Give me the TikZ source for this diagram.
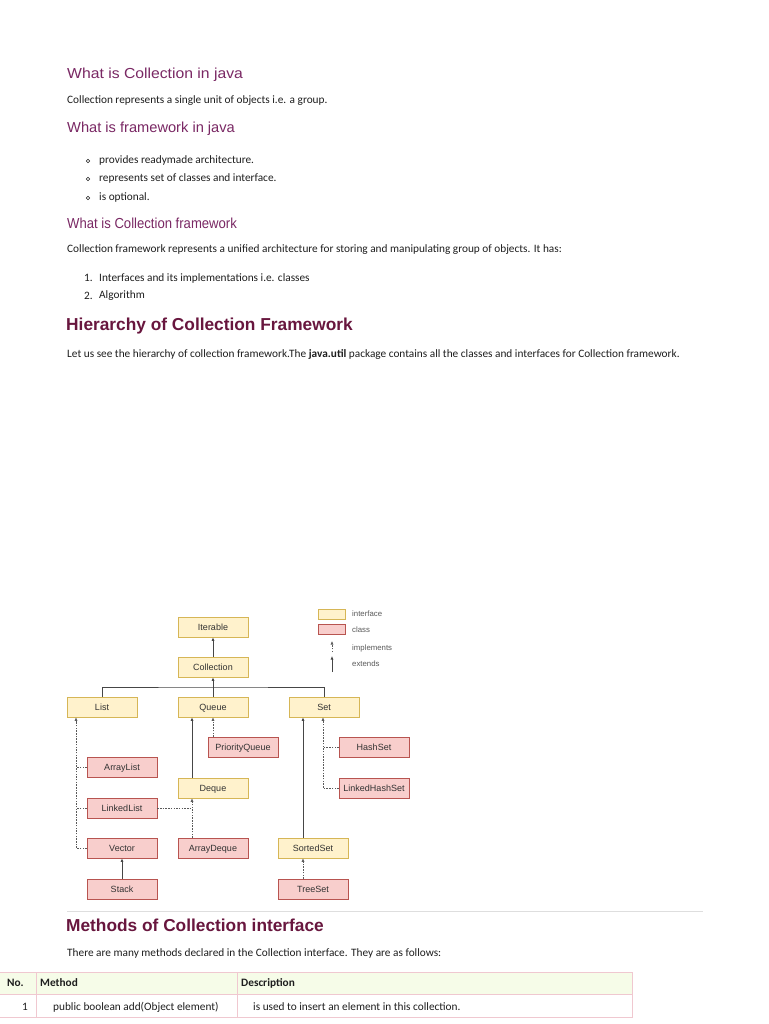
\documentclass[tikz,border=0pt]{standalone}
\usepackage{fontspec}
\setmainfont{Carlito}
\newfontfamily\headfont{Liberation Sans}
\usetikzlibrary{arrows.meta,calc}
\definecolor{headc}{RGB}{122,40,100}
\definecolor{head2c}{RGB}{104,22,62}
\definecolor{txtc}{RGB}{30,30,30}
\definecolor{ifill}{RGB}{255,242,204}
\definecolor{idraw}{RGB}{214,182,86}
\definecolor{cfill}{RGB}{248,206,204}
\definecolor{cdraw}{RGB}{184,84,80}
\definecolor{linec}{RGB}{70,70,70}
\definecolor{legc}{RGB}{90,90,90}
\definecolor{hdrfill}{RGB}{246,252,232}
\definecolor{tbline}{RGB}{240,200,208}
\definecolor{hrc}{RGB}{222,222,222}
\tikzset{
  txt/.style={anchor=west, inner sep=0pt, font=\fontsize{11.3}{13}\selectfont, text=txtc},
  txtb/.style={txt, font=\bfseries\fontsize{11.3}{13}\selectfont},
  hd/.style={anchor=west, inner sep=0pt, font=\headfont\fontsize{14.5}{16}\selectfont, text=headc},
  hdb/.style={anchor=west, inner sep=0pt, font=\headfont\bfseries\fontsize{17.3}{19}\selectfont, text=head2c},
  boxbase/.style={minimum width=70pt, minimum height=20pt, inner sep=0pt, line width=0.6pt,
    text height=6.6pt, text depth=0.5pt,
    font=\headfont\fontsize{9}{10}\selectfont, text={rgb,255:red,50;green,50;blue,50}},
  iface/.style={boxbase, fill=ifill, draw=idraw},
  cls/.style={boxbase, fill=cfill, draw=cdraw},
  ext/.style={draw=linec, line width=0.9pt, -{Latex[length=3.5pt,width=3pt]}},
  impl/.style={draw=legc, line width=0.6pt, dash pattern=on 1.5pt off 1.2pt, -{Latex[length=3.5pt,width=3pt]}},
  impln/.style={draw=legc, line width=0.6pt, dash pattern=on 1.5pt off 1.2pt},
  leg/.style={anchor=west, inner sep=0pt, font=\headfont\fontsize{7.8}{9}\selectfont, text=legc},
  swatch/.style={minimum width=27pt, minimum height=10pt, inner sep=0pt, line width=0.6pt},
  bul/.style={circle, draw=txtc, line width=0.6pt, minimum size=3.6pt, inner sep=0pt},
  tb/.style={draw=tbline, line width=0.8pt},
}
\begin{document}
\begin{tikzpicture}[x=1pt,y=-1pt]
\useasboundingbox[fill=white] (0,0) rectangle (768,1024);

% text section
\node[hd] (h1) at (67,75) {\scalebox{1.085}[1]{What is Collection in java}};
\node[txt] (p1) at (67,101) {Collection represents a single unit of objects i.e. a group.};
\node[hd] (h2) at (67,129) {\scalebox{1.01}[1]{What is framework in java}};
\node[bul] (b1) at (88,161) {};
\node[bul] (b2) at (88,179) {};
\node[bul] (b3) at (88,198) {};
\node[txt] (l1) at (99,160) {provides readymade architecture.};
\node[txt] (l2) at (99,178) {represents set of classes and interface.};
\node[txt] (l3) at (99,197) {is optional.};
\node[hd] (h3) at (67,223) {\scalebox{0.904}[1]{What is Collection framework}};
\node[txt] (p2) at (67,250) {Collection framework represents a unified architecture for storing and manipulating group of objects. It has:};
\node[txt] (n1) at (84,278) {1.};
\node[txt] (n2) at (84,296) {2.};
\node[txt] (m1) at (99,278) {Interfaces and its implementations i.e. classes};
\node[txt] (m2) at (99,296) {Algorithm};
\node[hdb] (h4) at (66,326) {Hierarchy of Collection Framework};
\node[txt] (p3) at (67,354) {Let us see the hierarchy of collection framework.The \textbf{java.util} package contains all the classes and interfaces for Collection framework.};

% diagram boxes
\node[iface] (iter) at (213,627) {Iterable};
\node[iface] (coll) at (213,667) {Collection};
\node[iface] (list) at (102,707) {List};
\node[iface] (queue) at (213,707) {Queue};
\node[iface] (set) at (324,707) {Set};
\node[cls] (pq) at (243,747) {PriorityQueue};
\node[cls] (al) at (122,767) {ArrayList};
\node[iface] (deque) at (213,788) {Deque};
\node[cls] (ll) at (122,808) {LinkedList};
\node[cls] (vec) at (122,848) {Vector};
\node[cls] (adq) at (213,848) {ArrayDeque};
\node[cls] (stack) at (122,889) {Stack};
\node[cls] (hs) at (374,747) {HashSet};
\node[cls] (lhs) at (374,788) {LinkedHashSet};
\node[iface] (ss) at (313,848) {SortedSet};
\node[cls] (ts) at (313,889) {TreeSet};

\coordinate (bar) at (213,687);
\coordinate (qx) at ([xshift=-21pt]queue.south);
\coordinate (dx) at ([xshift=-21pt]deque.south);
\coordinate (lx) at ([xshift=-26pt]list.south);
\coordinate (sx) at ([xshift=-21pt]set.south);
\coordinate (hx) at ([xshift=-1pt]set.south);

% connectors
\draw[ext] (coll.north) -- (iter.south);
\draw[ext] (queue.north) -- (coll.south);
\draw[draw=linec, line width=0.9pt] (list.north) |- (bar) -| (set.north);
\draw[impl] (pq.north -| queue.south) -- (queue.south);
\draw[ext] (deque.north -| qx) -- (qx);
\draw[impl] (adq.north -| dx) -- (dx);
\draw[impln] (ll.east) -- (ll.east -| dx);
\draw[impl] (vec.west) -| (lx);
\draw[impln] (al.west) -- (al.west -| lx);
\draw[impln] (ll.west) -- (ll.west -| lx);
\draw[ext] (stack.north) -- (vec.south);
\draw[impl] (lhs.west) -| (hx);
\draw[impln] (hs.west) -- (hs.west -| hx);
\draw[ext] (ss.north -| sx) -- (sx);
\draw[impl] (ts.north -| sx) -- (ss.south -| sx);

% legend
\node[swatch, fill=ifill, draw=idraw] (li) at (331.5,614) {};
\node[swatch, fill=cfill, draw=cdraw] (lc) at (331.5,629) {};
\node[leg] (lt1) at (352,614) {interface};
\node[leg] (lt2) at (352,630) {class};
\node[leg] (lt3) at (352,648) {implements};
\node[leg] (lt4) at (352,664) {extends};
\coordinate (la1) at (332,652);
\coordinate (la2) at (332,641);
\coordinate (la3) at (332,672);
\coordinate (la4) at (332,656);
\draw[impl] (la1) -- (la2);
\draw[ext] (la3) -- (la4);

% separator
\coordinate (hr1) at (67,911);
\coordinate (hr2) at (703,911);
\draw[hrc, line width=0.8pt] (hr1) -- (hr2);

\node[hdb] (h5) at (66,925) {Methods of Collection interface};
\node[txt] (p4) at (67,953) {There are many methods declared in the Collection interface. They are as follows:};

% table
\fill[hdrfill] (-2,972) rectangle (632,994);
\draw[tb] (-2,972) rectangle (632,1017);
\draw[tb] (-2,994) -- (632,994);
\draw[tb] (36,972) -- (36,1017);
\draw[tb] (237,972) -- (237,1017);
\node[txtb] (c1) at (7,983) {No.};
\node[txtb] (c2) at (40,983) {Method};
\node[txtb] (c3) at (241,983) {Description};
\node[txt] (r1) at (22,1007) {1};
\node[txt] (r2) at (53,1007) {public boolean add(Object element)};
\node[txt] (r3) at (253,1007) {is used to insert an element in this collection.};
\end{tikzpicture}
\end{document}
